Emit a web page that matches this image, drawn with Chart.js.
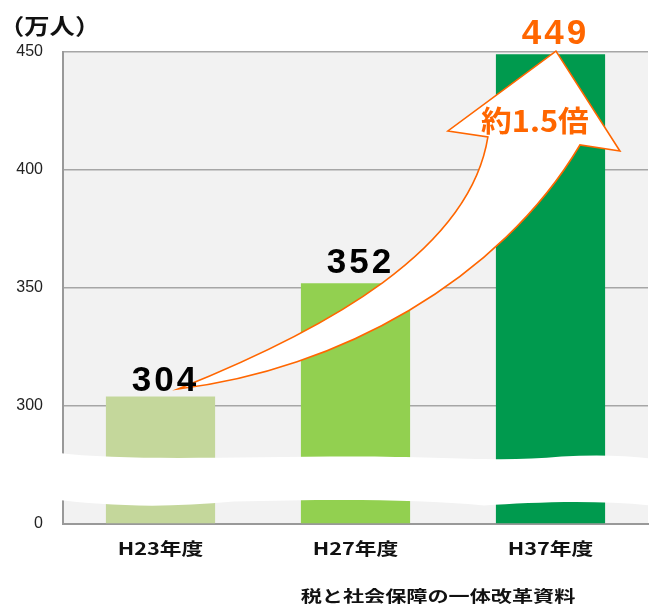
<!DOCTYPE html>
<html>
<head>
<meta charset="utf-8">
<script src="https://cdn.jsdelivr.net/npm/chart.js@4.4.1/dist/chart.umd.min.js"></script>
<style>
  html, body { margin: 0; padding: 0; background: #fff; }
  #wrap { width: 651px; height: 608px; }
</style>
</head>
<body>
<div id="wrap"><canvas id="chart"></canvas></div>
<script>
const categories = ['H23年度', 'H27年度', 'H37年度'];
const values = [304, 352, 449];
const yTicks = [0, 300, 350, 400, 450];
const barColors = ['#c4d79b', '#92d050', '#009a4e'];
const unitLabel = '（万人）';
const ratioLabel = '約1.5倍';
const sourceLabel = '税と社会保障の一体改革資料';

const JP = '"Noto Sans CJK JP", sans-serif';
const NUM = '"Liberation Sans", Arial, sans-serif';
const ORANGE = '#ff6600';

// the axis is broken: each tick step gets the same height
function toUnits(v) {
  for (let i = 0; i < yTicks.length - 1; i++) {
    if (v <= yTicks[i + 1]) return i + (v - yTicks[i]) / (yTicks[i + 1] - yTicks[i]);
  }
  return yTicks.length - 1;
}

// arrow outline in data space: [category index, axis units]
const arrowShape = {
  start: [0.09, 1.144],
  upper: [[0.859, 1.653], [1.587, 2.322], [1.679, 3.28]],
  head: [[1.474, 3.331], [2.028, 4.008], [2.356, 3.161], [2.151, 3.212]],
  lower: [[1.741, 2.068], [0.91, 1.305]]
};

function stretched(ctx, text, x, y, font, sx, color, align) {
  ctx.save();
  ctx.font = font;
  ctx.fillStyle = color;
  ctx.textAlign = align || 'center';
  ctx.textBaseline = 'middle';
  ctx.translate(x, y);
  ctx.scale(sx, 1);
  ctx.fillText(text, 0, 0);
  ctx.restore();
}

const decor = {
  id: 'decor',
  beforeDraw(chart) {
    const a = chart.chartArea, ctx = chart.ctx;
    ctx.save();
    ctx.fillStyle = '#f2f2f2';
    ctx.fillRect(a.left, a.top, a.right - a.left, a.bottom - a.top);
    ctx.restore();
  },
  afterDatasetsDraw(chart) {
    const ctx = chart.ctx, x = chart.scales.x, y = chart.scales.y;
    const a = chart.chartArea;

    // break band between 0 and 300
    const yTop = y.getPixelForValue(0.58), yBot = y.getPixelForValue(0.19);
    const L = a.left - 8, R = chart.width, W = R - L;
    ctx.save();
    ctx.fillStyle = '#ffffff';
    ctx.beginPath();
    ctx.moveTo(L, yTop - 3);
    ctx.bezierCurveTo(L + W * 0.12, yTop + 6, L + W * 0.3, yTop + 1, L + W * 0.5, yTop + 1);
    ctx.bezierCurveTo(L + W * 0.65, yTop + 1, L + W * 0.75, yTop + 7, L + W * 0.85, yTop + 1);
    ctx.quadraticCurveTo(L + W * 0.93, yTop - 2, R, yTop + 3);
    ctx.lineTo(R, yBot + 4);
    ctx.bezierCurveTo(L + W * 0.9, yBot - 2, L + W * 0.8, yBot + 1, L + W * 0.72, yBot + 4);
    ctx.bezierCurveTo(L + W * 0.6, yBot - 3, L + W * 0.45, yBot - 2, L + W * 0.3, yBot);
    ctx.bezierCurveTo(L + W * 0.18, yBot + 7, L + W * 0.08, yBot + 4, L, yBot - 2);
    ctx.closePath();
    ctx.fill();
    ctx.restore();

    // curved arrow
    const P = (p) => [x.getPixelForValue(p[0]), y.getPixelForValue(p[1])];
    const s = P(arrowShape.start);
    const u = arrowShape.upper.map(P), h = arrowShape.head.map(P), l = arrowShape.lower.map(P);
    ctx.save();
    ctx.beginPath();
    ctx.moveTo(s[0], s[1]);
    ctx.bezierCurveTo(u[0][0], u[0][1], u[1][0], u[1][1], u[2][0], u[2][1]);
    h.forEach(p => ctx.lineTo(p[0], p[1]));
    ctx.bezierCurveTo(l[0][0], l[0][1], l[1][0], l[1][1], s[0], s[1]);
    ctx.closePath();
    ctx.fillStyle = '#ffffff';
    ctx.fill();
    ctx.strokeStyle = ORANGE;
    ctx.lineWidth = 1.6;
    ctx.lineJoin = 'miter';
    ctx.stroke();
    ctx.restore();

    const hx = (h[0][0] + h[2][0]) / 2 + 1;
    const hy = (h[0][1] + h[2][1]) / 2 - 20;
    stretched(ctx, ratioLabel, hx, hy, 'bold 29px ' + JP, 1.06, ORANGE);

    // value labels
    const meta = chart.getDatasetMeta(0);
    meta.data.forEach((bar, i) => {
      ctx.save();
      ctx.font = 'bold 35px ' + NUM;
      ctx.letterSpacing = '3px';
      ctx.fillStyle = i === values.length - 1 ? ORANGE : '#000000';
      ctx.textAlign = 'center';
      ctx.textBaseline = 'alphabetic';
      ctx.fillText(String(values[i]), bar.x + 5, bar.y - (i === 0 ? 6 : 10));
      ctx.restore();
    });
  },
  afterDraw(chart) {
    const ctx = chart.ctx, x = chart.scales.x, a = chart.chartArea;
    categories.forEach((c, i) => {
      stretched(ctx, c, x.getPixelForValue(i), a.bottom + 25, 'bold 17px ' + JP, 1.28, '#111111');
    });
    stretched(ctx, unitLabel, -1, 26, 'bold 22px ' + JP, 1.15, '#111111', 'left');
    stretched(ctx, sourceLabel, 438, 596, 'bold 16px ' + JP, 1.32, '#111111');
  }
};

new Chart(document.getElementById('chart'), {
  type: 'bar',
  data: {
    labels: categories,
    datasets: [{
      data: values.map(toUnits),
      backgroundColor: barColors,
      barPercentage: 0.56,
      categoryPercentage: 1.0
    }]
  },
  options: {
    responsive: true,
    maintainAspectRatio: false,
    animation: false,
    layout: { padding: { top: 52, right: 3, left: 0, bottom: 0 } },
    plugins: { legend: { display: false }, tooltip: { enabled: false } },
    scales: {
      x: {
        grid: { display: false, drawTicks: false },
        border: { color: '#999999', width: 2 },
        ticks: { display: false },
        afterFit: (s) => { s.height = 84; }
      },
      y: {
        min: 0,
        max: yTicks.length - 1,
        afterFit: (s) => { s.width = 63; },
        grid: {
          drawTicks: false,
          color: (c) => c.tick && c.tick.value === 0 ? 'rgba(0,0,0,0)' : '#a6a6a6',
          lineWidth: 1.5
        },
        border: { color: '#999999', width: 2 },
        ticks: {
          stepSize: 1,
          padding: 20,
          color: '#222222',
          font: { family: NUM, size: 16 },
          callback: (v) => yTicks[v]
        }
      }
    }
  },
  plugins: [decor]
});
</script>
</body>
</html>
